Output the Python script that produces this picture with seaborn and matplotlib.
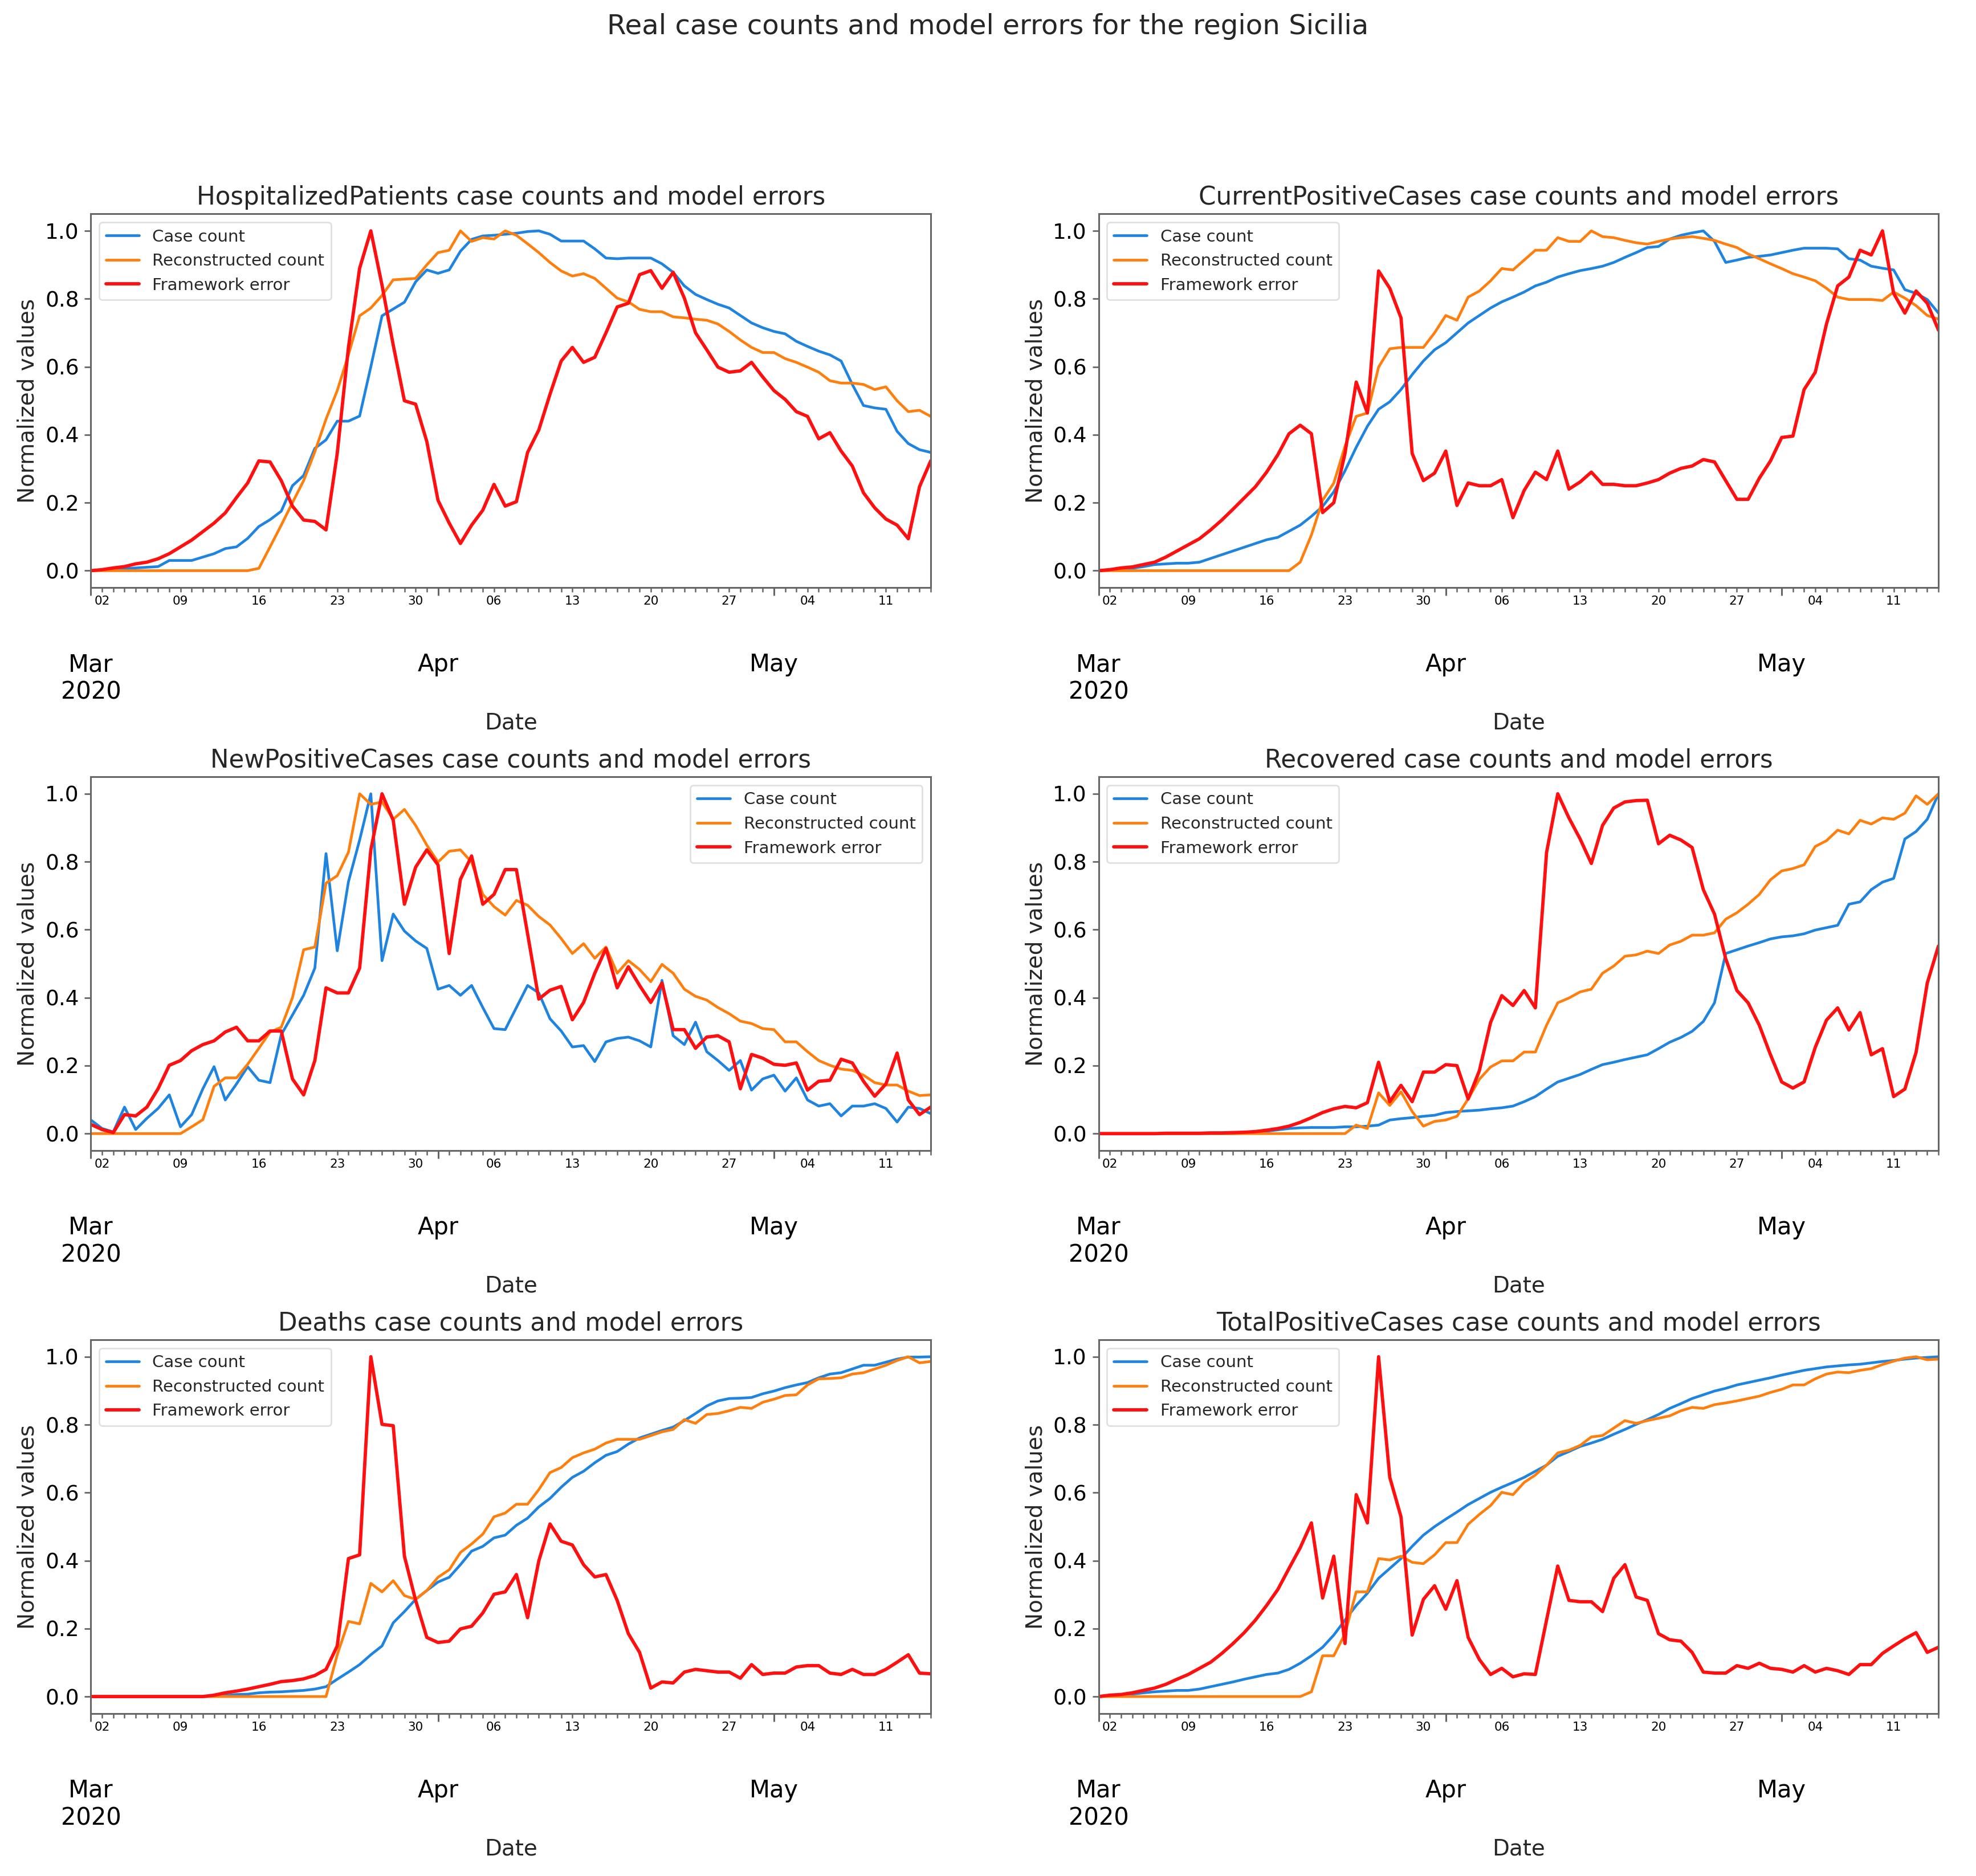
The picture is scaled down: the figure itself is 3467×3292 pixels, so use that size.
import numpy as np
import pandas as pd
import matplotlib
matplotlib.use("Agg")
import matplotlib.pyplot as plt
import matplotlib.dates as mdates
from matplotlib.ticker import FuncFormatter
import seaborn as sns

# daily values, 1 Mar 2020 .. 15 May 2020 (76 days), already normalized to [0, 1]
dates = pd.date_range("2020-03-01", "2020-05-15", freq="D")

hosp_case = [0.0, 0.002, 0.004, 0.006, 0.008, 0.01, 0.012, 0.03, 0.03, 0.03,
             0.04, 0.05, 0.065, 0.07, 0.095, 0.13, 0.15, 0.175, 0.25, 0.28,
             0.36, 0.385, 0.44, 0.44, 0.455, 0.6, 0.75, 0.77, 0.79, 0.85,
             0.885, 0.875, 0.885, 0.94, 0.975, 0.985, 0.987, 0.99, 0.993, 0.998,
             1.0, 0.99, 0.97, 0.97, 0.97, 0.947, 0.92, 0.918, 0.92, 0.92,
             0.92, 0.903, 0.878, 0.838, 0.813, 0.798, 0.784, 0.773, 0.751, 0.729,
             0.715, 0.704, 0.697, 0.675, 0.66, 0.646, 0.635, 0.617, 0.548, 0.486,
             0.479, 0.475, 0.41, 0.374, 0.356, 0.348]
hosp_recon = [0, 0, 0, 0, 0, 0, 0, 0, 0, 0,
              0, 0, 0, 0, 0, 0.007, 0.07, 0.134, 0.2, 0.265,
              0.35, 0.446, 0.53, 0.635, 0.75, 0.773, 0.81, 0.856, 0.858, 0.86,
              0.9, 0.936, 0.943, 1.0, 0.969, 0.98, 0.976, 1.0, 0.987, 0.962,
              0.936, 0.907, 0.882, 0.867, 0.874, 0.86, 0.831, 0.802, 0.791, 0.769,
              0.762, 0.762, 0.747, 0.744, 0.74, 0.737, 0.726, 0.704, 0.679, 0.657,
              0.642, 0.642, 0.624, 0.613, 0.599, 0.584, 0.559, 0.552, 0.552, 0.548,
              0.533, 0.541, 0.5, 0.468, 0.472, 0.454]
hosp_err = [0.0, 0.003, 0.008, 0.012, 0.02, 0.025, 0.035, 0.05, 0.07, 0.09,
            0.115, 0.14, 0.17, 0.215, 0.258, 0.323, 0.32, 0.265, 0.19, 0.149,
            0.145, 0.12, 0.345, 0.657, 0.89, 1.0, 0.84, 0.664, 0.5, 0.49,
            0.38, 0.207, 0.14, 0.08, 0.134, 0.178, 0.254, 0.19, 0.203, 0.348,
            0.414, 0.519, 0.617, 0.657, 0.613, 0.628, 0.7, 0.776, 0.787, 0.871,
            0.883, 0.831, 0.878, 0.802, 0.7, 0.65, 0.599, 0.584, 0.588, 0.613,
            0.57, 0.53, 0.504, 0.468, 0.454, 0.388, 0.406, 0.352, 0.308, 0.229,
            0.185, 0.152, 0.134, 0.094, 0.247, 0.323]

curr_case = [0.0, 0.002, 0.004, 0.007, 0.012, 0.018, 0.02, 0.022, 0.022, 0.025,
             0.036, 0.047, 0.058, 0.069, 0.08, 0.091, 0.098, 0.116, 0.134, 0.16,
             0.189, 0.232, 0.294, 0.363, 0.425, 0.475, 0.497, 0.533, 0.577, 0.617,
             0.65, 0.671, 0.7, 0.729, 0.751, 0.773, 0.791, 0.805, 0.82, 0.838,
             0.849, 0.864, 0.874, 0.883, 0.889, 0.896, 0.907, 0.922, 0.936, 0.951,
             0.954, 0.976, 0.987, 0.994, 1.0, 0.969, 0.907, 0.914, 0.922, 0.925,
             0.929, 0.936, 0.943, 0.949, 0.949, 0.949, 0.947, 0.918, 0.914, 0.896,
             0.89, 0.885, 0.827, 0.816, 0.798, 0.758]
curr_recon = [0, 0, 0, 0, 0, 0, 0, 0, 0, 0,
              0, 0, 0, 0, 0, 0, 0, 0, 0.025, 0.105,
              0.207, 0.258, 0.366, 0.454, 0.464, 0.599, 0.653, 0.657, 0.657, 0.657,
              0.7, 0.751, 0.737, 0.805, 0.823, 0.853, 0.889, 0.885, 0.914, 0.943,
              0.943, 0.98, 0.969, 0.969, 1.0, 0.983, 0.98, 0.972, 0.965, 0.961,
              0.969, 0.976, 0.98, 0.983, 0.978, 0.972, 0.961, 0.951, 0.932, 0.918,
              0.903, 0.889, 0.874, 0.864, 0.853, 0.831, 0.805, 0.798, 0.798, 0.798,
              0.795, 0.82, 0.802, 0.78, 0.751, 0.74]
curr_err = [0.0, 0.003, 0.008, 0.011, 0.018, 0.025, 0.04, 0.058, 0.076, 0.094,
            0.12, 0.149, 0.181, 0.214, 0.247, 0.29, 0.341, 0.403, 0.428, 0.403,
            0.171, 0.2, 0.345, 0.555, 0.464, 0.882, 0.831, 0.744, 0.345, 0.265,
            0.287, 0.352, 0.192, 0.258, 0.25, 0.25, 0.268, 0.156, 0.236, 0.29,
            0.268, 0.352, 0.24, 0.261, 0.29, 0.254, 0.254, 0.25, 0.25, 0.258,
            0.268, 0.287, 0.301, 0.308, 0.327, 0.32, 0.265, 0.21, 0.21, 0.272,
            0.323, 0.392, 0.396, 0.533, 0.584, 0.726, 0.838, 0.864, 0.943, 0.929,
            1.0, 0.816, 0.758, 0.823, 0.787, 0.708]

new_case = [0.04, 0.015, 0.005, 0.078, 0.012, 0.045, 0.074, 0.114, 0.02, 0.056,
            0.132, 0.197, 0.099, 0.146, 0.197, 0.157, 0.15, 0.291, 0.349, 0.407,
            0.487, 0.824, 0.538, 0.741, 0.864, 1.0, 0.509, 0.646, 0.596, 0.567,
            0.545, 0.425, 0.436, 0.407, 0.436, 0.371, 0.309, 0.306, 0.371, 0.436,
            0.414, 0.338, 0.302, 0.255, 0.259, 0.212, 0.27, 0.28, 0.284, 0.273,
            0.255, 0.451, 0.288, 0.262, 0.328, 0.241, 0.215, 0.186, 0.215, 0.128,
            0.161, 0.172, 0.125, 0.164, 0.099, 0.081, 0.088, 0.052, 0.081, 0.081,
            0.088, 0.074, 0.034, 0.078, 0.074, 0.059]
new_recon = [0, 0, 0, 0, 0, 0, 0, 0, 0, 0.02,
             0.041, 0.139, 0.164, 0.164, 0.204, 0.251, 0.299, 0.313, 0.4, 0.541,
             0.549, 0.737, 0.759, 0.828, 1.0, 0.969, 0.976, 0.925, 0.954, 0.907,
             0.849, 0.799, 0.831, 0.835, 0.799, 0.704, 0.668, 0.643, 0.686, 0.672,
             0.639, 0.614, 0.574, 0.53, 0.559, 0.516, 0.549, 0.472, 0.509, 0.483,
             0.447, 0.498, 0.472, 0.425, 0.404, 0.393, 0.371, 0.353, 0.331, 0.324,
             0.309, 0.306, 0.27, 0.27, 0.241, 0.215, 0.201, 0.19, 0.186, 0.172,
             0.15, 0.143, 0.143, 0.125, 0.112, 0.114]
new_err = [0.027, 0.012, 0.003, 0.056, 0.052, 0.078, 0.132, 0.201, 0.215, 0.244,
           0.262, 0.273, 0.299, 0.313, 0.273, 0.273, 0.302, 0.302, 0.161, 0.114,
           0.215, 0.429, 0.414, 0.414, 0.487, 0.835, 1.0, 0.922, 0.675, 0.784,
           0.835, 0.791, 0.53, 0.748, 0.817, 0.675, 0.704, 0.777, 0.777, 0.588,
           0.396, 0.422, 0.433, 0.335, 0.386, 0.472, 0.545, 0.429, 0.491, 0.436,
           0.386, 0.443, 0.306, 0.306, 0.251, 0.284, 0.288, 0.27, 0.132, 0.233,
           0.222, 0.204, 0.201, 0.208, 0.128, 0.154, 0.157, 0.219, 0.208, 0.154,
           0.11, 0.146, 0.237, 0.099, 0.056, 0.078]

rec_case = [0, 0, 0, 0, 0, 0, 0, 0, 0, 0,
            0, 0, 0, 0.001, 0.004, 0.007, 0.011, 0.015, 0.017, 0.018,
            0.018, 0.018, 0.02, 0.02, 0.022, 0.025, 0.04, 0.044, 0.047, 0.051,
            0.054, 0.062, 0.065, 0.067, 0.069, 0.073, 0.076, 0.081, 0.094, 0.109,
            0.131, 0.152, 0.163, 0.174, 0.189, 0.203, 0.21, 0.218, 0.225, 0.232,
            0.25, 0.269, 0.283, 0.301, 0.33, 0.385, 0.53, 0.541, 0.552, 0.562,
            0.573, 0.579, 0.582, 0.588, 0.599, 0.606, 0.613, 0.675, 0.682, 0.718,
            0.74, 0.751, 0.867, 0.889, 0.925, 1.0]
rec_recon = [0, 0, 0, 0, 0, 0, 0, 0, 0, 0,
             0, 0, 0, 0, 0, 0, 0, 0, 0, 0,
             0, 0, 0, 0.025, 0.015, 0.12, 0.083, 0.123, 0.065, 0.022,
             0.036, 0.04, 0.051, 0.102, 0.16, 0.196, 0.214, 0.214, 0.24, 0.24,
             0.319, 0.385, 0.399, 0.417, 0.425, 0.472, 0.493, 0.522, 0.526, 0.537,
             0.53, 0.555, 0.566, 0.584, 0.584, 0.591, 0.631, 0.65, 0.675, 0.704,
             0.747, 0.773, 0.78, 0.791, 0.845, 0.862, 0.893, 0.882, 0.922, 0.911,
             0.929, 0.925, 0.943, 0.994, 0.969, 1.0]
rec_err = [0, 0, 0, 0, 0, 0, 0.001, 0.001, 0.001, 0.001,
           0.002, 0.002, 0.003, 0.004, 0.006, 0.01, 0.015, 0.022, 0.033, 0.047,
           0.062, 0.073, 0.08, 0.076, 0.091, 0.21, 0.094, 0.142, 0.094, 0.181,
           0.181, 0.203, 0.2, 0.102, 0.185, 0.327, 0.406, 0.377, 0.421, 0.37,
           0.827, 1.0, 0.929, 0.867, 0.795, 0.907, 0.958, 0.976, 0.98, 0.981,
           0.853, 0.878, 0.864, 0.842, 0.718, 0.646, 0.515, 0.421, 0.385, 0.319,
           0.232, 0.152, 0.134, 0.152, 0.254, 0.334, 0.37, 0.305, 0.356, 0.232,
           0.25, 0.109, 0.131, 0.239, 0.443, 0.552]

death_case = [0, 0, 0, 0, 0, 0, 0, 0, 0, 0,
              0, 0.001, 0.003, 0.006, 0.007, 0.011, 0.013, 0.014, 0.016, 0.018,
              0.022, 0.029, 0.051, 0.072, 0.094, 0.123, 0.149, 0.217, 0.25, 0.286,
              0.312, 0.337, 0.351, 0.388, 0.428, 0.442, 0.467, 0.475, 0.504, 0.525,
              0.558, 0.583, 0.616, 0.645, 0.663, 0.688, 0.71, 0.721, 0.743, 0.761,
              0.772, 0.783, 0.793, 0.812, 0.833, 0.855, 0.87, 0.877, 0.878, 0.88,
              0.891, 0.899, 0.909, 0.917, 0.924, 0.938, 0.949, 0.953, 0.964, 0.975,
              0.975, 0.984, 0.993, 0.999, 0.999, 1.0]
death_recon = [0, 0, 0, 0, 0, 0, 0, 0, 0, 0,
               0, 0, 0, 0, 0, 0, 0, 0, 0, 0,
               0, 0, 0.123, 0.221, 0.214, 0.333, 0.308, 0.341, 0.297, 0.286,
               0.312, 0.351, 0.373, 0.424, 0.449, 0.478, 0.529, 0.54, 0.566, 0.566,
               0.609, 0.659, 0.674, 0.703, 0.717, 0.728, 0.746, 0.757, 0.757, 0.757,
               0.768, 0.779, 0.786, 0.815, 0.804, 0.83, 0.833, 0.841, 0.851, 0.848,
               0.866, 0.875, 0.886, 0.888, 0.917, 0.935, 0.936, 0.938, 0.949, 0.953,
               0.964, 0.975, 0.989, 1.0, 0.982, 0.986]
death_err = [0, 0, 0, 0, 0, 0, 0, 0, 0, 0,
             0, 0.004, 0.011, 0.016, 0.022, 0.029, 0.036, 0.044, 0.047, 0.052,
             0.062, 0.08, 0.149, 0.406, 0.417, 1.0, 0.801, 0.797, 0.413, 0.283,
             0.174, 0.159, 0.163, 0.199, 0.207, 0.246, 0.301, 0.308, 0.359, 0.232,
             0.399, 0.508, 0.457, 0.446, 0.388, 0.352, 0.359, 0.283, 0.185, 0.13,
             0.025, 0.043, 0.04, 0.072, 0.08, 0.076, 0.072, 0.072, 0.054, 0.094,
             0.065, 0.069, 0.069, 0.087, 0.091, 0.091, 0.069, 0.065, 0.08, 0.065,
             0.065, 0.08, 0.101, 0.123, 0.069, 0.067]

total_case = [0.0, 0.002, 0.004, 0.007, 0.011, 0.014, 0.016, 0.018, 0.018, 0.022,
              0.029, 0.036, 0.043, 0.051, 0.058, 0.065, 0.069, 0.08, 0.098, 0.12,
              0.145, 0.181, 0.225, 0.268, 0.304, 0.348, 0.377, 0.406, 0.442, 0.475,
              0.5, 0.522, 0.543, 0.565, 0.583, 0.601, 0.616, 0.63, 0.645, 0.663,
              0.681, 0.707, 0.721, 0.736, 0.746, 0.757, 0.772, 0.786, 0.801, 0.815,
              0.83, 0.848, 0.862, 0.877, 0.888, 0.899, 0.907, 0.917, 0.924, 0.931,
              0.938, 0.946, 0.953, 0.96, 0.965, 0.97, 0.973, 0.976, 0.978, 0.982,
              0.986, 0.989, 0.993, 0.996, 0.998, 1.0]
total_recon = [0, 0, 0, 0, 0, 0, 0, 0, 0, 0,
               0, 0, 0, 0, 0, 0, 0, 0, 0, 0.014,
               0.12, 0.12, 0.185, 0.308, 0.308, 0.406, 0.402, 0.413, 0.395, 0.391,
               0.417, 0.453, 0.453, 0.507, 0.536, 0.562, 0.601, 0.594, 0.63, 0.652,
               0.681, 0.717, 0.725, 0.739, 0.764, 0.768, 0.79, 0.812, 0.804, 0.812,
               0.819, 0.826, 0.841, 0.851, 0.848, 0.859, 0.864, 0.87, 0.877, 0.884,
               0.895, 0.904, 0.917, 0.917, 0.935, 0.949, 0.955, 0.953, 0.96, 0.965,
               0.977, 0.987, 0.996, 1.0, 0.991, 0.993]
total_err = [0.0, 0.004, 0.006, 0.011, 0.018, 0.025, 0.036, 0.051, 0.065, 0.083,
             0.101, 0.127, 0.156, 0.188, 0.225, 0.268, 0.315, 0.377, 0.438, 0.511,
             0.29, 0.413, 0.156, 0.594, 0.511, 1.0, 0.645, 0.529, 0.181, 0.286,
             0.326, 0.257, 0.341, 0.174, 0.109, 0.065, 0.083, 0.058, 0.067, 0.065,
             0.225, 0.384, 0.283, 0.279, 0.279, 0.25, 0.348, 0.388, 0.293, 0.283,
             0.185, 0.167, 0.163, 0.13, 0.072, 0.069, 0.069, 0.091, 0.083, 0.098,
             0.083, 0.08, 0.072, 0.091, 0.072, 0.083, 0.076, 0.065, 0.094, 0.094,
             0.127, 0.149, 0.17, 0.188, 0.13, 0.145]

panels = [
    ("HospitalizedPatients", hosp_case, hosp_recon, hosp_err, "upper left"),
    ("CurrentPositiveCases", curr_case, curr_recon, curr_err, "upper left"),
    ("NewPositiveCases", new_case, new_recon, new_err, "upper right"),
    ("Recovered", rec_case, rec_recon, rec_err, "upper left"),
    ("Deaths", death_case, death_recon, death_err, "upper left"),
    ("TotalPositiveCases", total_case, total_recon, total_err, "upper left"),
]
series_labels = ["Case count", "Reconstructed count", "Framework error"]
series_colors = ["#1f84e0", "#ff7f0e", "#ff1010"]
series_widths = [1.7, 1.7, 2.1]

sns.set_style("ticks")
plt.rcParams["font.family"] = ["DejaVu Sans"]
plt.rcParams["axes.edgecolor"] = "0.4"
plt.rcParams["axes.linewidth"] = 1.1


def month_label(x, pos):
    d = mdates.num2date(x)
    return d.strftime("%b\n%Y") if d.month == 3 else d.strftime("%b")


def day_label(x, pos):
    d = mdates.num2date(x)
    return d.strftime("%d") if d.weekday() == 0 else ""


fig, axes = plt.subplots(3, 2, figsize=(17.335, 16.46), dpi=200)
fig.subplots_adjust(left=0.046, right=0.981, top=0.886, bottom=0.0866,
                    wspace=0.2, hspace=0.506)

for ax, (name, case, recon, err, loc) in zip(axes.flat, panels):
    for vals, lab, col, lw in zip([case, recon, err], series_labels,
                                  series_colors, series_widths):
        sns.lineplot(x=dates, y=vals, ax=ax, color=col, linewidth=lw, label=lab)
    ax.set_xlim(dates[0], dates[-1])
    ax.set_ylim(-0.05, 1.05)
    ax.set_yticks([0.0, 0.2, 0.4, 0.6, 0.8, 1.0])
    ax.yaxis.set_major_formatter(FuncFormatter(lambda v, p: f"{v:.1f}"))
    ax.xaxis.set_major_locator(mdates.MonthLocator())
    ax.xaxis.set_major_formatter(FuncFormatter(month_label))
    ax.xaxis.set_minor_locator(mdates.DayLocator())
    ax.xaxis.set_minor_formatter(FuncFormatter(day_label))
    ax.tick_params(axis="x", which="major", length=5, width=1.1, pad=36,
                   labelsize=15, colors="0.4", labelcolor="black")
    ax.tick_params(axis="x", which="minor", length=3, width=0.9, pad=2,
                   labelsize=7.8, colors="0.4", labelcolor="black")
    ax.tick_params(axis="y", length=4, width=1.0, labelsize=13.5,
                   colors="0.4", labelcolor="black")
    ax.set_title(f"{name} case counts and model errors", fontsize=15.7, pad=6)
    ax.set_xlabel("Date", fontsize=14, labelpad=5)
    ax.set_ylabel("Normalized values", fontsize=14)
    ax.legend(loc=loc, fontsize=10.5, frameon=True, framealpha=0.8,
              edgecolor="0.85", fancybox=True)

fig.suptitle("Real case counts and model errors for the region Sicilia",
             fontsize=17.4, y=0.993, va="top")

plt.savefig("out.png", dpi=200, facecolor="white")
